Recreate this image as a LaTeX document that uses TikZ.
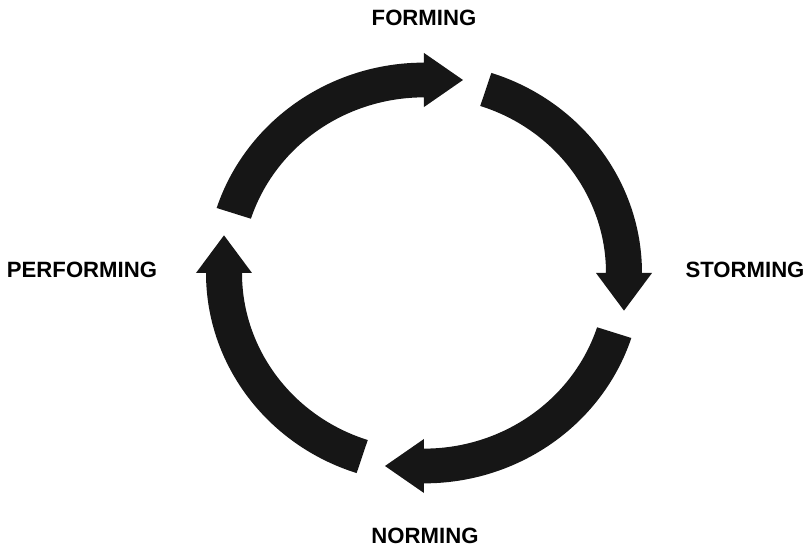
\documentclass[tikz,border=0pt]{standalone}
\usepackage{fontspec}
\setmainfont{Liberation Sans}
\usetikzlibrary{calc}
\definecolor{arrowBlack}{RGB}{22, 22, 22}

\begin{document}
\begin{tikzpicture}[stagelabel/.style={font=\bfseries\fontsize{12.6}{15}\selectfont, inner sep=0pt}]
        \useasboundingbox (-8.48,-5.52) rectangle (7.74,5.46);
        % four thick arrows round the cycle
        \begin{scope}[yscale=0.965]
          \foreach \a in {162,72,-18,-108} {
            \pgfmathsetmacro{\b}{\a-72}
            \fill[arrowBlack] (\a:4.36) arc[start angle=\a, end angle=\b, radius=4.36]
              -- (\b:4.56) -- ($(\b:4)+(\b-90:0.78)$) -- (\b:3.44)
              -- (\b:3.64) arc[start angle=\b, end angle=\a, radius=3.64] -- cycle;
          }
        \end{scope}
        \node[stagelabel] (forming) at (0,5.11) {FORMING};
        \node[stagelabel] (storming) at (6.42,0.06) {STORMING};
        \node[stagelabel] (norming) at (0.02,-5.26) {NORMING};
        \node[stagelabel] (performing) at (-6.84,0.06) {PERFORMING};
      \end{tikzpicture}
\end{document}
